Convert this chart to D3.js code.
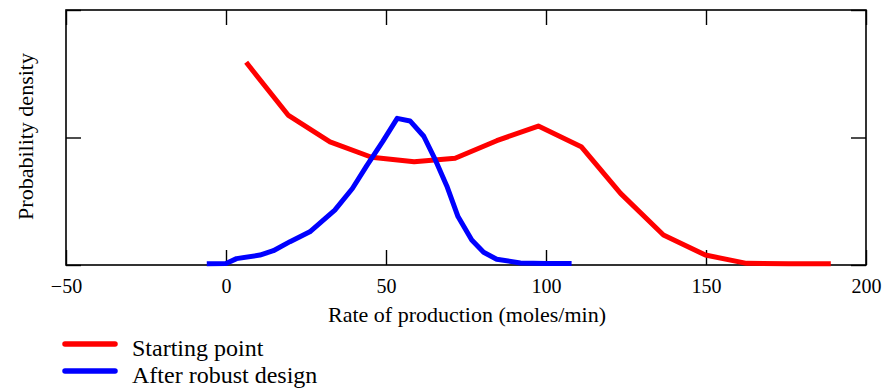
<!doctype html>
<html lang="en">
<head>
<meta charset="UTF-8" />
<title>Probability density</title>
<style>
  body { margin: 0; background: #fff; font-family: 'Liberation Serif', 'Times New Roman', serif; }
  .axis text { font-family: 'Liberation Serif', serif; font-size: 20px; fill: #000; }
  .axis line { stroke: #000; stroke-width: 1.4px; }
</style>
<script src="https://d3js.org/d3.v7.min.js"></script>
</head>
<body>
<div id="chart-container"></div>
<script>
// values
var xTicks = [-50, 0, 50, 100, 150, 200];
var yTicks = [0, 1, 2];
var startX = [6.3, 19.4, 32.5, 45.5, 58.8, 71.6, 84.6, 97.6, 111, 123.3, 136.7, 149.8, 162.7, 175.8, 189];
var startY = [1.59, 1.176, 0.965, 0.845, 0.81, 0.837, 0.975, 1.09, 0.928, 0.562, 0.235, 0.078, 0.013, 0.01, 0.01];
var robustX = [-6, 0, 3.3, 10.6, 14.8, 20, 26.2, 34, 39.5, 44, 49, 53.5, 57.5, 61.8, 65.5, 69, 72.5, 76.8, 80.5, 84.6, 92, 100, 108];
var robustY = [0.01, 0.012, 0.05, 0.078, 0.112, 0.183, 0.26, 0.43, 0.6, 0.78, 0.97, 1.15, 1.13, 1.01, 0.82, 0.62, 0.38, 0.196, 0.1, 0.045, 0.016, 0.012, 0.012];
var seriesNames = ['Starting point', 'After robust design'];
var seriesColors = ['#ff0000', '#0000ff'];

var canvasWidth = 886;
var canvasHeight = 389;
var margin = { top: 10, right: 20, bottom: 124, left: 66 };
var width = canvasWidth - margin.left - margin.right;
var height = canvasHeight - margin.top - margin.bottom;

var svg = d3.select('#chart-container')
    .append('svg')
    .attr('width', canvasWidth)
    .attr('height', canvasHeight);

var g = svg.append('g')
    .attr('transform', 'translate(' + margin.left + ',' + margin.top + ')');

var xScale = d3.scaleLinear().domain([-50, 200]).range([0, width]);
var yScale = d3.scaleLinear().domain([0, 2]).range([height, 0]);

// ticks point inward on every side
g.append('g')
    .attr('class', 'axis')
    .attr('transform', 'translate(0,' + height + ')')
    .call(d3.axisBottom(xScale).tickValues(xTicks).tickSize(-15).tickPadding(14))
    .call(function (a) { a.select('.domain').remove(); });

g.append('g')
    .attr('class', 'axis')
    .call(d3.axisTop(xScale).tickValues(xTicks).tickSize(-15).tickFormat(''))
    .call(function (a) { a.select('.domain').remove(); });

g.append('g')
    .attr('class', 'axis')
    .call(d3.axisLeft(yScale).tickValues(yTicks).tickSize(-15).tickFormat(''))
    .call(function (a) { a.select('.domain').remove(); });

g.append('g')
    .attr('class', 'axis')
    .attr('transform', 'translate(' + width + ',0)')
    .call(d3.axisRight(yScale).tickValues(yTicks).tickSize(-15).tickFormat(''))
    .call(function (a) { a.select('.domain').remove(); });

// frame
g.append('rect')
    .attr('width', width)
    .attr('height', height)
    .attr('fill', 'none')
    .attr('stroke', '#000')
    .attr('stroke-width', 1.6);

var line = d3.line()
    .x(function (d) { return xScale(d[0]); })
    .y(function (d) { return yScale(d[1]); });

var series = [d3.zip(startX, startY), d3.zip(robustX, robustY)];

g.selectAll('.curve')
    .data(series)
    .enter()
    .append('path')
    .attr('class', 'curve')
    .attr('d', line)
    .attr('fill', 'none')
    .attr('stroke', function (d, i) { return seriesColors[i]; })
    .attr('stroke-width', 5)
    .attr('stroke-linejoin', 'round');

// axis labels
svg.append('text')
    .attr('x', margin.left + width / 2 + 1)
    .attr('y', 322)
    .attr('text-anchor', 'middle')
    .attr('font-size', '22px')
    .text('Rate of production (moles/min)');

svg.append('text')
    .attr('transform', 'translate(33,' + (margin.top + height / 2 - 1) + ') rotate(-90)')
    .attr('text-anchor', 'middle')
    .attr('font-size', '22px')
    .text('Probability density');

// legend
var legend = svg.selectAll('.legend')
    .data(seriesNames)
    .enter()
    .append('g')
    .attr('class', 'legend')
    .attr('transform', function (d, i) { return 'translate(65,' + (344 + i * 27) + ')'; });

legend.append('line')
    .attr('x1', 0).attr('x2', 50)
    .attr('stroke', function (d, i) { return seriesColors[i]; })
    .attr('stroke-width', 5.5)
    .attr('stroke-linecap', 'round');

legend.append('text')
    .attr('x', 67)
    .attr('y', 12)
    .attr('font-size', '24px')
    .text(function (d) { return d; });
</script>
</body>
</html>
